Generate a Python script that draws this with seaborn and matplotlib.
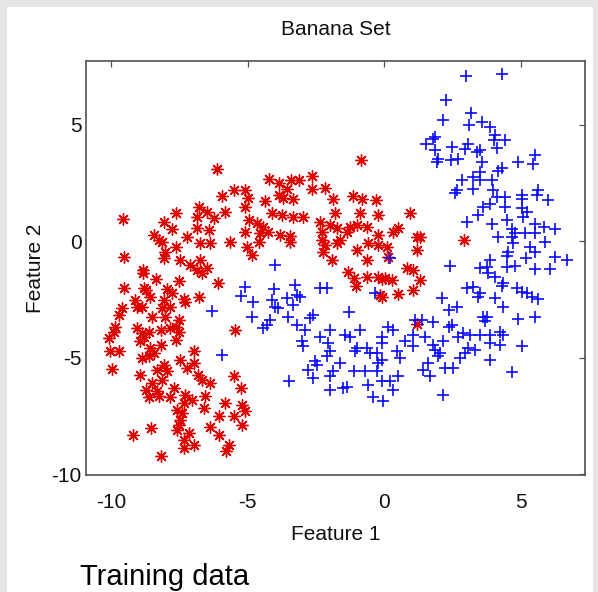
import matplotlib
matplotlib.use("Agg")
import matplotlib.pyplot as plt
import seaborn as sns
import pandas as pd
from matplotlib.patches import Rectangle

# ---- data (Feature 1, Feature 2) ----
red_x = [-6.12, -5.93, -5.49, -5.09, -4.98, -0.84, -4.21, -3.85, -3.42, -3.11,
         -2.65, -2.65, -2.16, -3.55, -3.85, -3.70, -3.33, -1.87, -1.14, -0.82,
         -0.29, -4.36, -4.11, -3.75, -3.32, -2.96, -4.66, -4.42, -4.54, -4.24,
         -3.81, -3.44, -3.44, -4.60, -4.85, -1.79, -0.88, -0.21, 0.95, -2.34,
         -2.28, -1.98, -1.73, -1.37, -1.25, -1.00, -0.63, 0.34, 0.52, 1.20,
         -2.28, -2.16, -2.22, -1.92, -1.73, -1.61, -1.00, -0.58, -0.21, -0.21,
         0.10, -0.63, 0.16, 1.20, -1.31, -1.12, -1.03, -0.63, -0.21, -0.08,
         0.04, 0.28, -0.15, -0.08, 0.52, 0.83, 1.07, 1.07, 1.20, 1.32,
         2.93, 1.32, -9.57, -7.64, -8.07, -7.77, -6.79, -6.85, -6.48, -6.24,
         -6.42, -6.85, -5.81, -5.08, -4.96, -5.08, -8.44, -8.25, -8.13, -8.01,
         -8.07, -7.64, -7.22, -6.73, -6.36, -5.63, -5.02, -9.53, -7.46, -7.10,
         -6.73, -6.85, -6.48, -6.67, -8.83, -8.83, -8.35, -7.52, -7.95, -7.77,
         -8.80, -8.72, -8.56, -9.53, -7.28, -7.34, -6.79, -6.08, -9.11, -9.05,
         -8.86, -9.60, -9.72, -8.50, -8.13, -8.07, -7.83, -8.01, -9.84, -9.90,
         -9.05, -8.86, -8.19, -7.83, -7.52, -7.64, -7.52, -10.08, -5.45, -8.80,
         -8.62, -10.03, -9.72, -9.96, -8.96, -8.93, -8.86, -8.56, -8.19, -8.44,
         -8.62, -7.64, -7.46, -6.97, -6.97, -7.22, -8.32, -8.07, -7.95, -8.13,
         -8.50, -8.74, -8.32, -8.25, -8.62, -7.83, -7.70, -7.28, -7.03, -7.34,
         -7.58, -7.40, -7.46, -7.52, -7.58, -7.15, -7.34, -6.97, -7.34, -6.81,
         -6.67, -6.36, -6.55, -6.60, -5.81, -6.05, -6.36, -6.05, -5.51, -5.26,
         -5.20, -5.08, -5.51, -5.20, -5.69, -5.79, -9.21, -8.53, -8.16]
red_y = [3.10, 1.93, 2.19, 2.19, 1.85, 3.49, 2.67, 2.50, 2.62, 2.62,
         2.79, 2.24, 2.27, 2.24, 1.97, 1.85, 1.82, 1.82, 1.93, 1.82,
         1.76, 1.72, 1.19, 1.12, 1.04, 1.04, 0.76, 0.61, 0.33, 0.40,
         0.26, 0.21, -0.03, -0.03, -0.60, 1.19, 1.19, 1.12, 1.19, 0.83,
         0.40, 0.69, 0.55, 0.40, 0.61, 0.69, 0.61, 0.40, 0.55, 0.18,
         0.04, -0.17, -0.46, -0.82, -0.10, 0.04, -0.39, -0.10, -0.17, 0.26,
         -0.24, -0.82, -0.70, -0.39, -1.32, -1.60, -1.93, -1.56, -1.53, -1.64,
         -1.60, -1.67, -2.32, -2.39, -2.27, -1.17, -1.24, -2.10, -3.56, 0.18,
         0.04, -1.67, 0.94, 1.21, 0.83, 0.50, 1.47, 1.04, 1.26, 0.97,
         0.47, 0.55, 1.26, 1.47, 0.90, 0.40, 0.26, 0.04, -0.03, -0.46,
         -0.74, -0.24, 0.16, -0.10, -0.07, -0.03, -0.24, -0.67, -0.82, -1.03,
         -0.82, -1.24, -1.17, -1.39, -1.24, -1.39, -1.64, -1.70, -2.07, -2.24,
         -2.03, -2.10, -2.39, -2.03, -2.61, -2.50, -2.39, -1.82, -2.53, -2.82,
         -2.82, -2.89, -3.18, -3.25, -2.89, -2.53, -2.82, -3.25, -3.68, -3.89,
         -3.75, -3.96, -3.82, -3.75, -3.39, -3.68, -3.89, -4.18, -3.82, -4.11,
         -3.89, -4.73, -4.71, -5.48, -4.30, -5.74, -5.02, -4.59, -4.45, -4.81,
         -4.95, -4.24, -5.09, -4.73, -5.24, -5.45, -5.52, -5.31, -5.59, -5.95,
         -6.09, -6.38, -6.45, -6.67, -6.71, -6.71, -6.31, -6.60, -6.81, -6.95,
         -7.24, -7.38, -7.67, -7.88, -8.10, -8.24, -8.53, -8.74, -8.88, -5.74,
         -5.95, -6.09, -6.67, -7.17, -6.95, -7.52, -8.00, -8.31, -5.81, -6.31,
         -7.03, -7.31, -7.52, -7.91, -8.74, -9.03, -8.31, -8.03, -9.24]

blue_x = [3.00, 4.31, 2.26, 2.17, 3.18, 3.12, 3.58, 3.88, 4.07, 4.43,
          4.03, 4.15, 1.87, 1.81, 1.54, 1.87, 1.97, 1.93, 2.48, 2.45,
          2.70, 2.97, 3.09, 3.40, 3.52, 3.58, 4.33, 4.19, 4.92, 5.47,
          5.53, 3.52, 3.27, 3.52, 2.85, 3.95, 2.66, 2.60, 3.27, 4.00,
          4.13, 4.43, 5.04, 5.65, 5.59, 5.04, 6.02, 3.88, 3.64, 3.45,
          4.43, 5.04, 5.23, 5.10, 3.03, 3.95, 4.49, 4.68, 5.53, 5.84,
          6.26, 4.16, 4.68, 4.80, 5.16, 5.53, 5.90, 5.35, 5.53, 4.74,
          4.55, 4.49, 5.20, 6.26, 6.69, 3.88, 2.42, 3.52, 3.76, 3.82,
          4.07, 4.49, 4.80, 5.53, 6.08, 4.37, 4.31, 3.03, 3.27, 3.45,
          3.52, 4.07, 4.86, 5.04, 5.23, 5.41, 5.65, 2.11, 2.66, 2.36,
          4.37, 3.64, 3.76, 3.70, 4.92, 5.53, 1.81, 1.38, 2.36, 2.48,
          2.90, 3.15, 3.52, 3.88, 4.37, 4.25, 1.50, 2.72, 1.81, 1.87,
          2.17, 2.05, 1.99, 3.09, 2.97, 3.33, 2.78, 3.88, 4.25, 5.04,
          3.88, 1.62, 1.44, 1.68, 2.23, 2.54, 4.68, 2.14, 0.22, -3.99,
          -3.26, -4.05, -2.34, -2.10, -3.20, -3.08, -4.79, -4.11, -3.56, -3.99,
          -3.87, -3.32, -2.59, -2.71, -3.51, -1.27, -0.33, -4.85, -4.18, -4.30,
          -4.42, -3.20, -2.89, -1.98, -2.34, -1.43, -1.25, -0.88, 0.16, 0.34,
          1.14, -0.08, 1.07, -5.08, -5.23, -6.30, -5.93, -3.01, -2.96, -2.04,
          -1.00, -1.06, -0.63, -0.51, -0.08, -0.08, -0.21, 0.47, 0.59, 0.77,
          1.07, -1.98, -2.10, -2.53, -2.77, -2.47, -1.61, -1.12, -0.70, -0.27,
          -1.86, -1.98, -2.59, -3.47, -1.98, -1.49, -1.37, -0.58, -0.08, 0.22,
          0.52, 0.34, -0.39, -0.03, -0.27]
blue_y = [7.07, 7.17, 6.06, 5.18, 5.49, 4.97, 5.11, 4.89, 4.54, 4.36,
          4.32, 3.99, 4.46, 4.39, 4.18, 3.89, 3.53, 3.39, 4.03, 3.49,
          3.53, 3.96, 4.18, 3.82, 3.89, 3.39, 3.13, 2.99, 3.39, 3.32,
          3.68, 2.96, 2.75, 2.61, 2.61, 2.61, 2.18, 2.07, 2.24, 2.18,
          1.89, 1.89, 1.96, 2.18, 1.96, 1.82, 1.76, 1.59, 1.45, 1.12,
          1.45, 1.40, 1.26, 1.04, 0.83, 0.73, 0.90, 0.50, 0.73, 0.61,
          0.50, 0.18, 0.18, 0.33, 0.33, 0.33, -0.03, -0.24, -0.46, -0.10,
          -0.46, -0.64, -0.74, -0.67, -0.82, -0.82, -1.06, -1.17, -1.10, -1.39,
          -1.53, -1.10, -1.07, -1.21, -1.21, -1.82, -1.93, -2.03, -1.99, -2.39,
          -2.24, -2.46, -2.03, -2.18, -2.24, -2.39, -2.50, -2.46, -2.82, -2.96,
          -2.82, -3.25, -3.27, -3.42, -3.36, -3.27, -3.46, -3.39, -3.68, -3.61,
          -3.96, -4.03, -4.03, -4.03, -4.03, -3.89, -4.11, -4.11, -4.45, -4.67,
          -4.30, -4.81, -4.95, -4.59, -4.81, -4.67, -5.02, -4.38, -4.45, -4.52,
          -5.09, -5.24, -5.52, -5.81, -5.45, -5.45, -5.64, -6.62, -0.74, -1.03,
          -1.89, -2.07, -2.03, -2.03, -2.32, -2.39, -2.61, -2.53, -2.46, -2.82,
          -2.89, -2.75, -3.18, -3.32, -3.25, -3.03, -2.22, -3.25, -3.39, -3.61,
          -3.75, -3.61, -3.82, -3.82, -4.11, -4.03, -4.11, -3.82, -3.68, -3.82,
          -3.39, -4.11, -4.03, -1.99, -2.36, -2.99, -4.91, -4.30, -4.52, -4.38,
          -4.59, -4.73, -4.59, -4.81, -4.38, -5.09, -5.24, -4.73, -5.02, -4.30,
          -4.52, -4.73, -4.95, -5.16, -5.54, -5.31, -5.24, -5.59, -5.59, -5.59,
          -5.59, -5.81, -5.88, -6.02, -6.38, -6.31, -6.28, -6.17, -6.00, -6.02,
          -5.81, -6.38, -6.71, -6.85, -4.81]

x_ticks = [-10, -5, 0, 5]
y_ticks = [-10, -5, 0, 5]

red_df = pd.DataFrame({"Feature 1": red_x, "Feature 2": red_y})
blue_df = pd.DataFrame({"Feature 1": blue_x, "Feature 2": blue_y})

sns.set_style("white")
plt.rcParams["font.family"] = ["Liberation Sans", "DejaVu Sans"]

W, H = 598, 592
fig = plt.figure(figsize=(W / 100, H / 100), dpi=100, facecolor="#e6e6e6")
fig.patches.append(Rectangle((7 / W, 0), (593 - 7) / W, (H - 7) / H,
                             transform=fig.transFigure, facecolor="white",
                             edgecolor="none", zorder=-10))
ax = fig.add_axes([86 / W, 117 / H, 499 / W, 414 / H])
ax.set_zorder(5)
ax.set_facecolor("white")

sns.scatterplot(data=red_df, x="Feature 1", y="Feature 2", ax=ax,
                marker=(8, 2, 0), color="#e00000", s=68, linewidth=1.0)
sns.scatterplot(data=blue_df, x="Feature 1", y="Feature 2", ax=ax,
                marker="+", color="#0a0aff", s=80, linewidth=1.2)

ax.set_xlim(-10.92, 7.36)
ax.set_ylim(-10.04, 7.73)
ax.set_xticks(x_ticks)
ax.set_yticks(y_ticks)
ax.set_xticklabels([str(v) for v in x_ticks])
ax.set_yticklabels([str(v) for v in y_ticks])

for sp in ax.spines.values():
    sp.set_visible(True)
    sp.set_color("#505050")
    sp.set_linewidth(1.2)

ax.tick_params(axis="both", direction="in", length=4.5, width=0.9,
               color="#505050", labelcolor="#111111", labelsize=15,
               top=True, right=True)
ax.tick_params(axis="x", pad=13)
ax.tick_params(axis="y", pad=3)

ax.set_xlabel("Feature 1", fontsize=15, labelpad=9, color="#111111")
ax.set_ylabel("Feature 2", fontsize=15, labelpad=5, color="#111111")
ax.set_title("Banana Set", fontsize=15, pad=19, color="#111111")

fig.text(80 / W, 7 / H, "Training data", fontsize=21, ha="left",
         va="baseline", color="black")

fig.savefig("out.png", dpi=100, facecolor=fig.get_facecolor())
